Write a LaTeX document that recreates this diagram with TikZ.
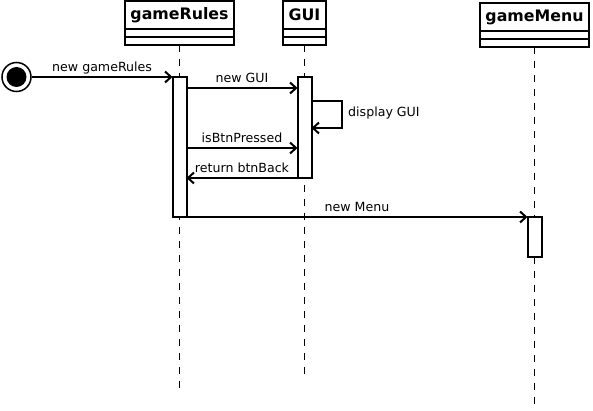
\documentclass[tikz,border=0pt]{standalone}
\usepackage{fontspec}
\setmainfont{DejaVu Sans}
\usetikzlibrary{positioning, arrows.meta}

\tikzset{
  classbox/.style={draw, line width=2pt, fill=white, minimum height=28pt,
    inner sep=0pt, outer sep=0pt, font=\fontsize{15.8}{17}\selectfont\bfseries},
  compbox/.style={draw, line width=2pt, minimum height=8pt, inner sep=0pt, outer sep=0pt},
  lifeline/.style={line width=1pt, dash pattern=on 7pt off 7pt},
  activation/.style={draw, line width=2pt, fill=white, minimum width=14pt,
    inner sep=0pt, outer sep=0pt},
  msg/.style={line width=2pt, -{Straight Barb[length=6pt, width=11pt, line width=2pt]}},
  msglabel/.style={above, inner sep=1pt, text height=9pt, text depth=3pt,
    font=\fontsize{12.6}{14}\selectfont}
}

\begin{document}
\begin{tikzpicture}[x=1pt, y=-1pt]
  \useasboundingbox (0,0) rectangle (593,411);

  % Objects
  \node[classbox, minimum width=109pt] (rules) at (179.5,15) {gameRules};
  \node[compbox, minimum width=109pt, below=0pt of rules] (rulesA) {};
  \node[compbox, minimum width=109pt, below=0pt of rulesA] (rulesB) {};

  \node[classbox, minimum width=43pt] (gui) at (304.5,15) {GUI};
  \node[compbox, minimum width=43pt, below=0pt of gui] (guiA) {};
  \node[compbox, minimum width=43pt, below=0pt of guiA] (guiB) {};

  \node[classbox, minimum width=109pt] (menu) at (534.5,17) {gameMenu};
  \node[compbox, minimum width=109pt, below=0pt of menu] (menuA) {};
  \node[compbox, minimum width=109pt, below=0pt of menuA] (menuB) {};

  % Lifelines
  \coordinate (rulesEnd) at (rulesB.south |- 0,395);
  \coordinate (guiEnd) at (guiB.south |- 0,378);
  \coordinate (menuEnd) at (menuB.south |- 0,408);
  \draw[lifeline] (rulesB.south) -- (rulesEnd);
  \draw[lifeline] (guiB.south) -- (guiEnd);
  \draw[lifeline] (menuB.south) -- (menuEnd);

  % Activations
  \node[activation, minimum height=140pt] (rulesAct) at (rulesB.south |- 0,147) {};
  \node[activation, minimum height=101pt] (guiAct) at (guiB.south |- 0,127.5) {};
  \node[activation, minimum height=40pt] (menuAct) at (menuB.south |- 0,237) {};

  % Start state
  \node[circle, draw, line width=1.5pt, minimum size=29pt, inner sep=0pt] (start) at (16.5,77) {};
  \node[circle, fill=black, minimum size=20pt, inner sep=0pt] (startDot) at (start) {};

  % Message rows
  \coordinate (rowGui) at (0,88);
  \coordinate (rowSelfA) at (0,101);
  \coordinate (rowSelfB) at (0,128);
  \coordinate (rowPressed) at (0,148);
  \coordinate (rowBack) at (0,178);
  \coordinate (rowMenu) at (0,217);
  \coordinate (selfTurn) at (342,115);

  % Messages
  \draw[msg] (start) -- (rulesAct.north west)
    node[msglabel, midway] {new gameRules};
  \draw[msg] (rulesAct.east |- rowGui) -- (guiAct.west |- rowGui)
    node[msglabel, midway] {new GUI};
  \draw[msg] (guiAct.east |- rowSelfA) -| (selfTurn) |- (guiAct.east |- rowSelfB);
  \node[anchor=west, inner sep=0pt, font=\fontsize{12.6}{14}\selectfont] (selfLabel) at (348,113) {display GUI};
  \draw[msg] (rulesAct.east |- rowPressed) -- (guiAct.west |- rowPressed)
    node[msglabel, midway] {isBtnPressed};
  \draw[msg] (guiAct.south west) -- (rulesAct.east |- rowBack)
    node[msglabel, midway] {return btnBack};
  \draw[msg] (rulesAct.east |- rowMenu) -- (menuAct.west |- rowMenu)
    node[msglabel, midway] {new Menu};
\end{tikzpicture}
\end{document}
